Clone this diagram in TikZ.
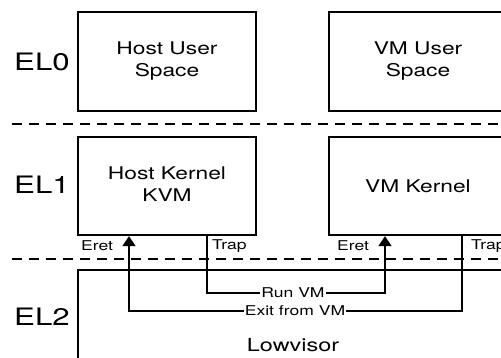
\documentclass[tikz,border=0pt]{standalone}
\usepackage{fontspec}
\usetikzlibrary{arrows.meta}
\newfontfamily\elfont{TeX Gyre Heros}
\newcommand{\wide}[1]{\scalebox{1.3}[1]{#1}}
\newcommand{\twolines}[2]{\wide{\begin{tabular}{@{}c@{}}#1\\#2\end{tabular}}}

\begin{document}
\begin{tikzpicture}[x=1pt,y=-1pt,
	box/.style={draw, line width=1.8pt, minimum width=178pt, minimum height=98.5pt, align=center, font=\elfont\fontsize{17.5}{22}\selectfont},
	lvl/.style={font=\elfont\fontsize{24}{28}\selectfont},
	tag/.style={anchor=west, inner sep=0pt, font=\elfont\fontsize{13.5}{15}\selectfont},
	call/.style={inner sep=1pt, font=\elfont\fontsize{13.5}{15}\selectfont},
	wire/.style={line width=1.8pt},
	tip/.style={-{Triangle[width=13pt,length=10pt]}},
	sep/.style={line width=1.8pt, dash pattern=on 10pt off 7pt}]
	\clip (0,0) rectangle (501,358);
	\fill[white] (0,0) rectangle (501,358);
	% exception levels
	\node[lvl] (el0) at (42,61.5) {\wide{EL0}};
	\node[lvl] (el1) at (42,185) {\wide{EL1}};
	\node[lvl] (el2) at (42,316.5) {\wide{EL2}};
	\draw[sep] (12,124) -- (501,124);
	\draw[sep] (12,259) -- (501,259);
	% boxes
	\node[box] (hus) at (167,61.5) {\twolines{Host User}{Space}};
	\node[box] (vus) at (418,61.5) {\twolines{VM User}{Space}};
	\node[box] (hk) at (167,186) {\twolines{Host Kernel}{KVM}};
	\node[box] (vk) at (418,186) {\wide{VM Kernel}};
	\node[box, minimum width=430pt, minimum height=150pt, font=\elfont\fontsize{18}{21}\selectfont] (low) at (293,345) {\wide{Lowvisor}};
	% entry and exit points
	\coordinate (hkeret) at ([xshift=-38pt]hk.south);
	\coordinate (hktrap) at ([xshift=40pt]hk.south);
	\coordinate (vkeret) at ([xshift=-33pt]vk.south);
	\coordinate (vktrap) at ([xshift=44pt]vk.south);
	\node[tag] (eret1) at (81,246) {\wide{Eret}};
	\node[tag] (trap1) at (212,246) {\wide{Trap}};
	\node[tag] (eret2) at (337,246) {\wide{Eret}};
	\node[tag] (trap2) at (471,246) {\wide{Trap}};
	\node[call] (run) at (293,293) {\wide{Run VM}};
	\node[call] (exit) at (295,311) {\wide{Exit from VM}};
	\draw[wire] (hktrap) |- (run.west);
	\draw[wire, tip] (run.east) -| (vkeret);
	\draw[wire] (vktrap) |- (exit.east);
	\draw[wire, tip] (exit.west) -| (hkeret);
\end{tikzpicture}
\end{document}
